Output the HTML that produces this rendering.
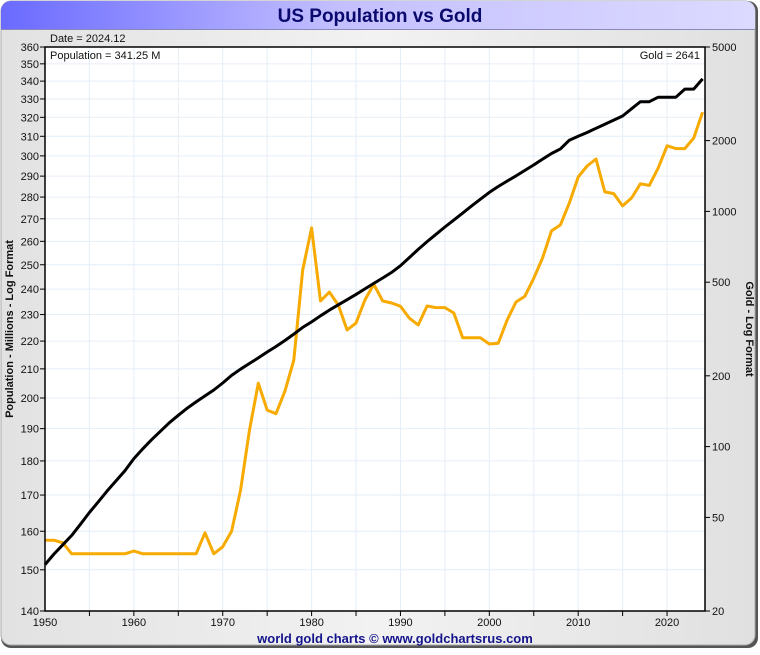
<!DOCTYPE html>
<html><head><meta charset="utf-8">
<style>
html,body{margin:0;padding:0;background:#fff;}
body{width:760px;height:650px;overflow:hidden;font-family:"Liberation Sans",sans-serif;}
</style></head>
<body>
<svg id="chart" width="760" height="650" xmlns="http://www.w3.org/2000/svg">
<defs>
<linearGradient id="tb" x1="0" x2="1" y1="0" y2="0"><stop offset="0" stop-color="#6a6aff"/><stop offset="0.45" stop-color="#c4c0ff"/><stop offset="1" stop-color="#dcdaff"/></linearGradient>
<linearGradient id="bg" x1="0" x2="1" y1="0" y2="0"><stop offset="0" stop-color="#e2e2e2"/><stop offset="0.5" stop-color="#f2f2f2"/><stop offset="1" stop-color="#e0e0e0"/></linearGradient>
</defs>
<rect x="1" y="1" width="757" height="647" rx="10" fill="#555"/>
<rect x="1" y="1" width="754" height="644" rx="10" fill="url(#bg)" stroke="#aaa"/>
<path d="M11 1 H745 A10 10 0 0 1 755 11 V29 H1 V11 A10 10 0 0 1 11 1 Z" fill="url(#tb)"/>
<line x1="1" y1="29.5" x2="755" y2="29.5" stroke="#8888bb" />
<text x="380" y="22" text-anchor="middle" font-size="19" font-weight="bold" fill="#0a0a6e">US Population vs Gold</text>
<rect x="45" y="47" width="660" height="564" fill="#fff"/>
<g id="grid"></g>
<g id="series"></g>
<rect x="45" y="47" width="660" height="564" fill="none" stroke="#000" stroke-width="1.5"/>
<g id="axes" font-size="11" fill="#111"></g>
<text x="50" y="42" font-size="11" fill="#111">Date = 2024.12</text>
<text x="50" y="59" font-size="11" fill="#111">Population = 341.25 M</text>
<text x="700" y="59" text-anchor="end" font-size="11" fill="#111">Gold = 2641</text>
<text transform="translate(13,329) rotate(-90)" text-anchor="middle" font-size="11" font-weight="bold" fill="#111">Population - Millions - Log Format</text>
<text transform="translate(746,329) rotate(90)" text-anchor="middle" font-size="11" font-weight="bold" fill="#111">Gold - Log Format</text>
<text x="395" y="643" text-anchor="middle" font-size="13" font-weight="bold" fill="#14148c">world gold charts © www.goldchartsrus.com</text>
</svg>
<script>
const years=[];for(let y=1950;y<=2024;y++)years.push(y);
const population=[151.3,154.0,156.4,158.9,161.9,165.1,168.1,171.2,174.1,177.1,180.7,183.7,186.5,189.2,191.9,194.3,196.6,198.7,200.7,202.7,205.1,207.7,209.9,211.9,213.9,216.0,218.0,220.2,222.6,225.1,227.2,229.5,231.7,233.8,235.8,237.9,240.1,242.3,244.5,246.8,249.6,253.0,256.5,259.9,263.1,266.3,269.4,272.6,275.9,279.0,282.2,285.0,287.6,290.1,292.8,295.5,298.4,301.2,303.5,308.0,310.0,312.0,314.2,316.3,318.5,320.7,324.6,328.5,328.5,331.0,331.0,331.0,335.5,335.5,341.25];
const gold=[40,40,39,35,35,35,35,35,35,35,36,35,35,35,35,35,35,35,43,35,37.5,43.7,65,117,186,143,138,172,233,564,850,416,454,400,313,335,420,490,416,408,395,352,329,396,390,390,370,290,290,290,273,275,345,412,436,520,634,826,876,1085,1400,1560,1670,1210,1190,1055,1140,1310,1290,1530,1900,1850,1850,2050,2641];
const popTicks=[140,150,160,170,180,190,200,210,220,230,240,250,260,270,280,290,300,310,320,330,340,350,360];
const goldTicks=[20,50,100,200,500,1000,2000,5000];
const yearTicks=[1950,1960,1970,1980,1990,2000,2010,2020];
const L=45,R=705,T=47,B=611,X0=1950,X1=2024.27;
const NS="http://www.w3.org/2000/svg";
const xS=v=>L+(v-X0)/(X1-X0)*(R-L);
const yP=v=>B-Math.log(v/140)/Math.log(360/140)*(B-T);
const yG=v=>B-Math.log(v/20)/Math.log(5000/20)*(B-T);
function mk(tag,at,parent){const e=document.createElementNS(NS,tag);for(const k in at)e.setAttribute(k,at[k]);parent.appendChild(e);return e;}
const grid=document.getElementById('grid'),axes=document.getElementById('axes'),series=document.getElementById('series');
for(let y=1955;y<=2020;y+=5){const l=mk('line',{x1:xS(y),x2:xS(y),y1:T,y2:B,stroke:'#e4eef7'},grid);


const t=mk('line',{x1:xS(y),x2:xS(y),y1:B,y2:B+5,stroke:'#000'},axes);

}
popTicks.forEach(p=>{const y=yP(p);
if(p>140&&p<360){const l=mk('line',{x1:L,x2:R,y1:y,y2:y,stroke:'#e4eef7'},grid);

}
const t=mk('line',{x1:L-5,x2:L,y1:y,y2:y,stroke:'#000'},axes);


const tx=mk('text',{x:L-6,y:y+4,'text-anchor':'end'},axes);tx.textContent=p;

});
goldTicks.forEach(g=>{const y=yG(g);
const t=mk('line',{x1:R,x2:R+5,y1:y,y2:y,stroke:'#000'},axes);


const tx=mk('text',{x:R+7,y:y+4},axes);tx.textContent=g;

});
yearTicks.forEach(yr=>{const tx=mk('text',{x:xS(yr),y:B+15,'text-anchor':'middle'},axes);tx.textContent=yr;

});
const gp=mk('polyline',{points:years.map((y,i)=>xS(y).toFixed(1)+','+yG(gold[i]).toFixed(1)).join(' '),fill:'none',stroke:'#f7aa00','stroke-width':3,'stroke-linejoin':'round'},series);


const pp=mk('polyline',{points:years.map((y,i)=>xS(y).toFixed(1)+','+yP(population[i]).toFixed(1)).join(' '),fill:'none',stroke:'#000','stroke-width':3,'stroke-linejoin':'round'},series);


</script>
</body></html>
